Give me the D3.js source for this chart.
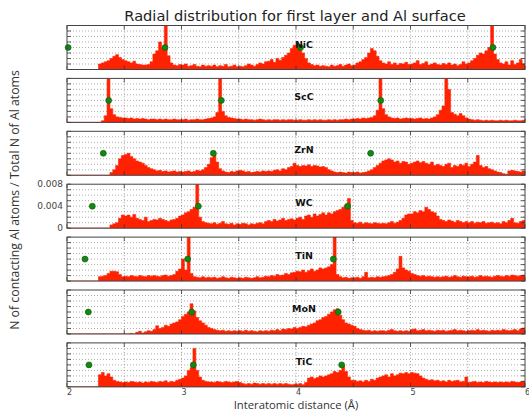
<!DOCTYPE html>
<html><head><meta charset="utf-8">
<script src="https://cdn.jsdelivr.net/npm/d3@7/dist/d3.min.js"></script>
<style>body{margin:0;background:#fff}svg{display:block}</style>
</head><body>
<script>
// ---- data (histogram heights in units of 1e-4, bins of 0.025 Å starting at 2.0 Å) ----
const UNIT = 1e-4;
const BIN_START = 2.0, BIN_WIDTH = 0.025;
const materials = ["NiC","ScC","ZrN","WC","TiN","MoN","TiC"];
const NiC = [0,0,0,0,0,0,0,0,0,0, 0,10,12,14,16,20,24,27,22,18, 16,14,12,15,10,9,8,8,9,14, 28,34,50,40,120,25,12,8,7,9,
  8,10,6,7,9,6,5,8,6,7, 6,8,5,7,6,9,5,6,8,5, 6,5,7,10,8,6,9,12,10,14, 15,18,13,20,17,22,26,30,38,44,
  46,40,30,20,12,9,7,8,6,7, 6,5,8,6,7,9,6,8,10,7, 8,12,14,18,22,30,38,34,24,16, 12,10,14,9,12,8,11,10,13,9,
  10,12,16,9,11,14,8,10,12,9, 8,11,9,12,8,10,7,9,14,10, 12,16,20,26,30,28,34,40,120,28, 18,12,10,14,8,16,9,12,18,10];
const ScC = [0,0,0,0,0,0,0,0,0,0, 0,0,3,12,120,25,14,10,9,8, 8,7,8,6,7,6,7,6,5,6, 6,5,6,5,6,5,5,6,5,5,
  5,6,4,5,5,6,5,5,6,7, 8,10,18,120,20,12,9,8,7,6, 6,5,6,5,5,4,5,6,5,4, 5,4,5,5,4,5,4,5,5,4,
  4,5,4,4,5,4,5,4,5,4, 4,5,4,5,4,5,5,6,5,6, 6,7,6,8,7,8,9,12,22,120, 25,14,10,8,7,8,6,7,8,7,
  7,6,7,8,6,7,6,8,10,14, 22,30,120,60,18,15,12,16,12,8, 6,5,4,5,4,3,4,3,4,3, 3,4,3,4,3,3,4,3,3,4];
const ZrN = [0,0,0,0,0,0,0,0,0,0, 0,0,0,0,0,5,10,18,30,36, 38,40,34,30,26,24,22,18,14,12, 10,8,9,7,8,6,7,8,6,7,
  6,7,8,6,7,9,8,10,14,20, 32,40,24,12,8,6,5,7,6,8, 9,8,6,7,5,6,7,6,8,7, 8,7,9,10,8,12,10,14,16,22,
  18,16,18,17,19,16,18,17,15,16, 14,10,8,6,5,6,5,4,6,5, 5,6,4,5,6,8,10,14,18,22, 26,28,30,28,24,26,22,25,24,20,
  22,24,26,23,25,22,20,24,18,20, 18,16,20,22,14,18,16,20,18,22, 16,20,24,36,18,14,16,12,10,8, 6,5,3,2,8,9,8,7,6,8];
const WC = [0,0,0,0,0,0,0,0,0,0, 0,0,0,0,0,6,8,10,18,24, 22,24,20,25,18,16,14,20,12,14, 16,15,18,16,14,12,15,16,18,22,
  24,28,30,34,38,120,20,12,10,9, 8,10,7,9,12,8,7,9,6,8, 7,9,8,6,8,7,9,10,8,12, 14,12,16,13,15,18,14,16,17,15,
  18,20,16,22,24,20,26,22,25,28, 24,28,26,30,32,34,38,42,54,14, 10,9,11,8,10,9,8,10,9,8, 9,8,10,12,9,11,14,18,24,26,
  26,30,28,32,30,38,34,30,28,22, 16,14,12,15,13,11,14,12,10,12, 10,12,9,11,10,12,9,10,11,9, 10,8,12,10,14,18,10,9,12,14];
const TiN = [0,0,0,0,0,0,0,0,0,0, 0,8,9,10,14,18,18,17,12,8, 9,8,10,9,8,10,9,8,10,9, 10,9,8,10,11,9,10,12,18,22,
  40,20,120,14,8,7,6,8,6,7, 6,7,5,6,8,6,5,7,6,5, 6,5,7,6,5,6,8,6,7,9, 8,10,9,12,10,11,14,12,15,16,
  18,17,20,16,19,22,18,20,24,22, 24,26,30,120,12,8,6,7,5,6, 6,7,5,8,16,6,7,6,8,7, 8,9,10,12,16,22,45,24,20,18,
  14,12,10,9,10,8,9,8,7,8, 7,8,9,7,8,10,8,7,9,8, 8,9,7,8,10,8,9,8,7,9, 10,9,8,10,9,11,10,9,10,11];
const MoN = [0,0,0,0,0,0,0,0,0,0, 0,0,0,0,0,0,0,0,0,0, 0,0,1,0,3,5,2,4,6,5, 8,15,10,12,16,14,18,20,22,26,
  32,36,40,55,42,30,24,20,16,12, 10,8,7,6,7,5,6,5,6,5, 6,5,7,5,6,5,4,6,5,6, 5,7,6,8,6,9,8,10,9,12,
  10,12,14,13,16,18,20,24,26,30, 32,36,40,44,46,34,26,20,18,16, 14,10,8,7,6,7,5,6,5,6, 6,5,7,8,6,5,6,5,6,5,
  8,9,6,7,8,6,7,6,5,7, 6,7,5,6,7,8,6,7,6,5, 6,7,6,8,6,7,6,5,7,6, 7,6,8,7,6,7,8,6,9,11];
const TiC = [0,0,0,0,0,0,0,0,0,0, 0,22,26,20,24,18,12,10,9,8, 9,8,10,9,8,9,7,9,8,10, 9,8,10,9,11,8,10,9,12,14,
  16,20,30,35,70,30,18,12,10,9, 9,8,10,9,8,10,9,8,9,10, 8,6,5,6,5,7,6,5,6,5, 6,5,6,5,6,5,6,5,4,5,
  5,6,4,8,16,18,15,17,20,18, 20,22,24,28,26,30,38,28,18,12, 12,10,11,9,12,10,14,12,16,18, 20,22,18,24,20,22,25,24,26,24,
  26,25,24,20,16,14,12,13,11,12, 10,11,9,12,10,11,12,9,10,18, 8,9,10,8,9,8,10,9,8,9, 8,9,8,9,8,10,9,8,9,10];
const histograms = [NiC, ScC, ZrN, WC, TiN, MoN, TiC];
// green marker positions (Å), all drawn at y = 0.004
const markersNiC = [2.01, 2.856, 4.04, 5.72];
const markersScC = [2.364, 3.348, 4.74];
const markersZrN = [2.317, 3.278, 4.652];
const markersWC  = [2.221, 3.147, 4.451];
const markersTiN = [2.157, 3.054, 4.326];
const markersMoN = [2.186, 3.089, 4.369];
const markersTiC = [2.192, 3.103, 4.399];
const markers = [markersNiC, markersScC, markersZrN, markersWC, markersTiN, markersMoN, markersTiC];
const markerY = 0.004;
const xTicks = [2,3,4,5,6];
const yTickLabels = [0, 0.004, 0.008];
const yTickText = ["0","0.004","0.008"];

// ---- layout ----
const W = 529, H = 412;
const left = 67, right = 525, top0 = 25.5, step = 52.9, ph = 44;
const svg = d3.select("body").append("svg").attr("width", W).attr("height", H)
  .style("font-family", "'DejaVu Sans', sans-serif");
const x = d3.scaleLinear().domain([2, 6]).range([left, right]);

svg.append("text").attr("x", 295).attr("y", 20.5).attr("text-anchor","middle")
  .attr("font-size", 14.6).attr("fill","#222").text("Radial distribution for first layer and Al surface");

histograms.forEach((vals, i) => {
  const t = top0 + i*step;
  const y = d3.scaleLinear().domain([0, 0.008]).range([t+ph, t]);
  const g = svg.append("g");
  const cid = "clip"+i;
  svg.append("clipPath").attr("id", cid).append("rect")
    .attr("x", left).attr("y", t).attr("width", right-left).attr("height", ph);
  // grid
  const gx = d3.range(2.5, 6, 0.5);
  g.selectAll(".vg").data(gx).join("line")
    .attr("x1", d=>x(d)).attr("x2", d=>x(d)).attr("y1", t).attr("y2", t+ph)
    .attr("stroke","#888").attr("stroke-width",0.8).attr("stroke-dasharray","1,2");
  const gy = d3.range(1, 8).map(k=>k*0.001);
  g.selectAll(".hg").data(gy).join("line")
    .attr("x1", left).attr("x2", right).attr("y1", d=>y(d)).attr("y2", d=>y(d))
    .attr("stroke","#999").attr("stroke-width",0.8).attr("stroke-dasharray","1,2");
  // histogram
  const pts = vals.map((v, k) => [BIN_START + k*BIN_WIDTH, v*UNIT]);
  pts.push([BIN_START + vals.length*BIN_WIDTH, vals[vals.length-1]*UNIT]);
  const area = d3.area().x(d=>x(d[0])).y0(y(0)).y1(d=>y(d[1])).curve(d3.curveStepAfter);
  g.append("path").attr("d", area(pts)).attr("fill","#ff2200")
    .attr("stroke","#ff2200").attr("stroke-width",0.6).attr("clip-path","url(#"+cid+")");
  // ticks
  const tk = d3.range(0, 9).map(k=>k*0.001);
  g.selectAll(".lt").data(tk).join("line")
    .attr("x1", left).attr("x2", left+4).attr("y1", d=>y(d)).attr("y2", d=>y(d))
    .attr("stroke","#333").attr("stroke-width",0.8);
  g.selectAll(".rt").data(tk).join("line")
    .attr("x1", right-4).attr("x2", right).attr("y1", d=>y(d)).attr("y2", d=>y(d))
    .attr("stroke","#333").attr("stroke-width",0.8);
  const xt = d3.range(2, 6.01, 0.5);
  g.selectAll(".bt").data(xt).join("line")
    .attr("x1", d=>x(d)).attr("x2", d=>x(d)).attr("y1", t+ph).attr("y2", t+ph-4)
    .attr("stroke","#333").attr("stroke-width",0.8);
  g.selectAll(".tt").data(xt).join("line")
    .attr("x1", d=>x(d)).attr("x2", d=>x(d)).attr("y1", t).attr("y2", t+4)
    .attr("stroke","#333").attr("stroke-width",0.8);
  // markers
  g.selectAll(".mk").data(markers[i]).join("circle")
    .attr("cx", d=>x(d)).attr("cy", y(markerY)).attr("r", 3)
    .attr("fill","#118811").attr("stroke","#0a5a0a").attr("stroke-width",0.6);
  // label
  g.append("text").attr("x", x(4.07)).attr("y", y(0.0040)).attr("text-anchor","middle")
    .attr("font-size", 9.5).attr("font-weight","bold").attr("fill","#111").text(materials[i]);
  // frame
  g.append("rect").attr("x", left).attr("y", t).attr("width", right-left).attr("height", ph)
    .attr("fill","none").attr("stroke","#444").attr("stroke-width",1);
  if (materials[i] === "WC") {
    g.selectAll(".yl").data(yTickLabels).join("text")
      .attr("x", left-4).attr("y", d=>y(d)).attr("dy","0.35em").attr("text-anchor","end")
      .attr("font-size", 9).attr("fill","#444").text((d,k)=>yTickText[k]);
  }
  if (i === histograms.length-1) {
    g.selectAll(".xl").data(xTicks).join("text")
      .attr("x", d=>x(d)+2.5).attr("y", 394.5).attr("text-anchor","middle")
      .attr("font-size", 8).attr("fill","#444").text(d=>d);
  }
});

svg.append("text").attr("x", 296).attr("y", 409).attr("text-anchor","middle")
  .attr("font-family","'Open Sans', sans-serif")
  .attr("font-size", 11.3).attr("fill","#333").text("Interatomic distance (Å)");
svg.append("text").attr("transform", `translate(19,200) rotate(-90)`)
  .attr("text-anchor","middle").attr("font-family","'Open Sans', sans-serif")
  .attr("font-size", 12.3).attr("fill","#333")
  .text("N of contacting Al atoms / Total N of Al atoms");
</script>
</body></html>
